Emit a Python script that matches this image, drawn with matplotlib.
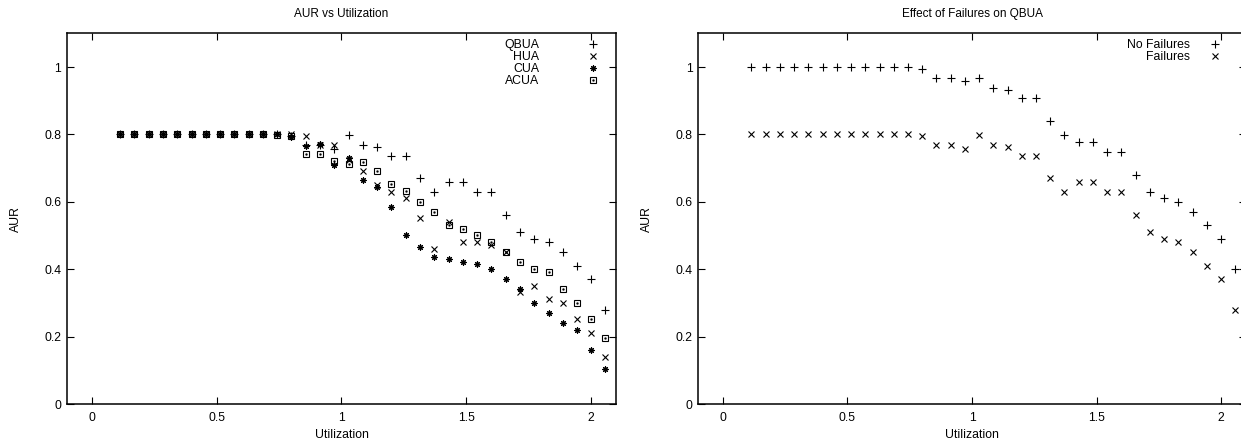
import matplotlib
matplotlib.use("Agg")
import matplotlib.pyplot as plt
from matplotlib.ticker import FormatStrFormatter

plt.rcParams['font.family'] = ['Liberation Sans', 'DejaVu Sans']
plt.rcParams['font.size'] = 8.8

# Utilization values (x)
util = [0.114, 0.171, 0.229, 0.286, 0.343, 0.400, 0.457, 0.514, 0.571, 0.629,
        0.686, 0.743, 0.800, 0.857, 0.914, 0.971, 1.029, 1.086, 1.143, 1.200,
        1.257, 1.314, 1.371, 1.429, 1.486, 1.543, 1.600, 1.657, 1.714, 1.771,
        1.829, 1.886, 1.943, 2.000, 2.057]

# Left panel: AUR vs Utilization
qbua = [0.8, 0.8, 0.8, 0.8, 0.8, 0.8, 0.8, 0.8, 0.8, 0.8,
        0.8, 0.8, 0.795, 0.768, 0.768, 0.758, 0.798, 0.768, 0.762, 0.736,
        0.736, 0.670, 0.630, 0.658, 0.658, 0.628, 0.628, 0.560, 0.510, 0.490,
        0.480, 0.450, 0.410, 0.370, 0.280]
hua = [0.8, 0.8, 0.8, 0.8, 0.8, 0.8, 0.8, 0.8, 0.8, 0.8,
       0.8, 0.8, 0.800, 0.795, 0.770, 0.770, 0.725, 0.691, 0.650, 0.630,
       0.610, 0.551, 0.460, 0.541, 0.481, 0.482, 0.472, 0.451, 0.331, 0.350,
       0.312, 0.301, 0.251, 0.211, 0.138]
cua = [0.8, 0.8, 0.8, 0.8, 0.8, 0.8, 0.8, 0.8, 0.8, 0.8,
       0.8, 0.8, 0.793, 0.766, 0.771, 0.709, 0.731, 0.665, 0.644, 0.585,
       0.500, 0.467, 0.435, 0.430, 0.421, 0.416, 0.400, 0.371, 0.341, 0.300,
       0.271, 0.241, 0.221, 0.161, 0.103]
acua = [0.8, 0.8, 0.8, 0.8, 0.8, 0.8, 0.8, 0.8, 0.8, 0.8,
        0.8, 0.797, 0.795, 0.742, 0.742, 0.721, 0.711, 0.719, 0.691, 0.652,
        0.632, 0.600, 0.571, 0.531, 0.520, 0.500, 0.481, 0.451, 0.420, 0.400,
        0.391, 0.340, 0.301, 0.251, 0.195]

# Right panel: Effect of Failures on QBUA
no_fail = [1.0, 1.0, 1.0, 1.0, 1.0, 1.0, 1.0, 1.0, 1.0, 1.0,
           1.0, 1.0, 0.995, 0.968, 0.968, 0.958, 0.968, 0.938, 0.932, 0.907,
           0.907, 0.841, 0.799, 0.778, 0.778, 0.748, 0.748, 0.680, 0.630, 0.610,
           0.600, 0.570, 0.530, 0.490, 0.400]
fail = qbua

x_ticks = [0, 0.5, 1, 1.5, 2]
y_ticks = [0, 0.2, 0.4, 0.6, 0.8, 1]

W, H = 1241, 440
fig = plt.figure(figsize=(W / 100, H / 100), dpi=100)
ax1 = fig.add_axes([66.7 / W, 36 / H, 549.5 / W, 370.7 / H])
ax2 = fig.add_axes([698 / W, 36 / H, 548 / W, 370.7 / H])

mk = dict(linestyle='none', color='black', markeredgewidth=0.8)


def style(ax, title):
    ax.set_xlim(-0.1, 2.1)
    ax.set_ylim(0, 1.1)
    ax.set_xticks(x_ticks)
    ax.set_yticks(y_ticks)
    ax.xaxis.set_major_formatter(FormatStrFormatter('%g'))
    ax.yaxis.set_major_formatter(FormatStrFormatter('%g'))
    ax.tick_params(direction='in', length=5, width=0.8, top=True, right=True)
    ax.tick_params(axis='x', pad=6)
    ax.tick_params(axis='y', pad=4)
    for s in ax.spines.values():
        s.set_linewidth(1.1)
    ax.set_xlabel('Utilization', labelpad=3)
    ax.set_ylabel('AUR', labelpad=16)
    ax.set_title(title, fontsize=8.5, pad=12)


# left
p1, = ax1.plot(util, qbua, marker='+', markersize=5.5, **mk)
p2, = ax1.plot(util, hua, marker='x', markersize=4, **mk)
p3, = ax1.plot(util, cua, marker=(8, 2, 0), markersize=4.5, **mk)
p4, = ax1.plot(util, acua, marker='s', markersize=4, markerfacecolor='none', **mk)
p4d, = ax1.plot(util, acua, marker='s', markersize=0.8, **mk)
style(ax1, 'AUR vs Utilization')
ax1.legend([p1, p2, p3, (p4, p4d)], ['QBUA', 'HUA', 'CUA', 'ACUA'],
           loc='upper right', frameon=False, markerfirst=False,
           handlelength=2.8, handletextpad=3.0, labelspacing=0.0,
           borderpad=0.0, borderaxespad=0.5)

# right
q1, = ax2.plot(util, no_fail, marker='+', markersize=5.5, **mk)
q2, = ax2.plot(util, fail, marker='x', markersize=4, **mk)
style(ax2, 'Effect of Failures on QBUA')
ax2.legend([q1, q2], ['No Failures', 'Failures'],
           loc='upper right', frameon=False, markerfirst=False,
           handlelength=4.1, handletextpad=0.0, labelspacing=0.0,
           borderpad=0.0, borderaxespad=0.5)

fig.savefig('out.png', dpi=100)
